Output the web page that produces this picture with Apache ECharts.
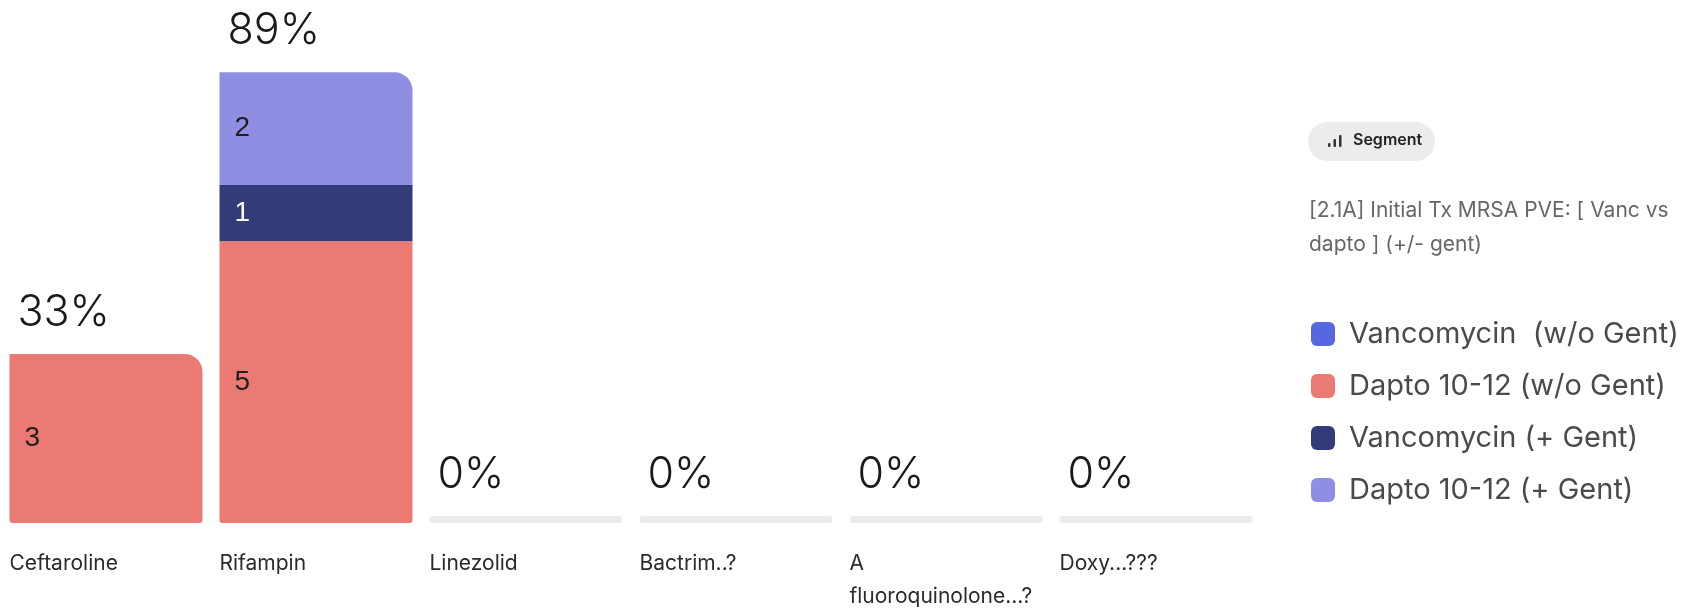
<!DOCTYPE html>
<html>
<head>
<meta charset="utf-8">
<script src="https://cdn.jsdelivr.net/npm/echarts@6/dist/echarts.min.js"></script>
<style>
  html, body { margin: 0; padding: 0; background: #ffffff; }
  #chart { width: 1689px; height: 610px; }
</style>
</head>
<body>
<div id="chart"></div>
<script>
// Answer options and how many respondents in each segment picked them
const categories = ['Ceftaroline', 'Rifampin', 'Linezolid', 'Bactrim..?', 'A fluoroquinolone...?', 'Doxy...???'];
const seriesNames = ['Vancomycin  (w/o Gent)', 'Dapto 10-12 (w/o Gent)', 'Vancomycin (+ Gent)', 'Dapto 10-12 (+ Gent)'];
const vancNoGent  = [0, 0, 0, 0, 0, 0];
const daptoNoGent = [3, 5, 0, 0, 0, 0];
const vancGent    = [0, 1, 0, 0, 0, 0];
const daptoGent   = [0, 2, 0, 0, 0, 0];
const respondents = 9;
const segmentQuestion = '[2.1A] Initial Tx MRSA PVE: [ Vanc vs dapto ] (+/- gent)';
const segmentButton = 'Segment';

const colors = ['#5668df', '#ec7a74', '#343b79', '#8f8ee3'];
const valueLabelColors = ['#ffffff', '#1f1f1f', '#ffffff', '#1f1f1f'];

const stacks = [vancNoGent, daptoNoGent, vancGent, daptoGent];
const totals = categories.map((_, i) => stacks.reduce((s, arr) => s + arr[i], 0));

// lowest and highest non-empty segment in each column, to round the outer corners
const bottomIdx = categories.map((_, i) => stacks.findIndex(arr => arr[i] > 0));
const topIdx = categories.map((_, i) => {
  for (let k = stacks.length - 1; k >= 0; k--) if (stacks[k][i] > 0) return k;
  return -1;
});

const BAR_W = 193;
const FONT = 'Inter, "Noto Sans", sans-serif';

const stackSeries = stacks.map((arr, k) => ({
  name: seriesNames[k],
  type: 'bar',
  stack: 'answers',
  barWidth: BAR_W,
  barGap: '-100%',
  z: 3,
  color: colors[k],
  data: arr.map((v, i) => ({
    value: v,
    itemStyle: {
      borderRadius: [0, topIdx[i] === k ? 18 : 0, bottomIdx[i] === k ? 3 : 0, bottomIdx[i] === k ? 3 : 0]
    }
  })),
  label: {
    show: true,
    position: 'insideLeft',
    distance: 15,
    fontSize: 28,
    fontFamily: '"Liberation Sans", Arial, sans-serif',
    color: valueLabelColors[k],
    formatter: p => (p.value > 0 ? String(p.value) : '')
  },
  emphasis: { disabled: true }
}));

// Column totals: a thin grey track where nothing was picked, plus the share label on top
const totalSeries = {
  name: 'total',
  type: 'bar',
  barWidth: BAR_W,
  barGap: '-100%',
  barMinHeight: 7,
  z: 1,
  silent: true,
  data: totals.map(t => ({
    value: t,
    itemStyle: { color: t > 0 ? 'rgba(0,0,0,0)' : '#ebebeb', borderRadius: 4 }
  })),
  label: {
    show: true,
    position: [8, -41],
    align: 'left',
    verticalAlign: 'middle',
    fontSize: 43,
    fontWeight: 300,
    fontFamily: FONT,
    color: '#1a1a1a',
    formatter: p => Math.round(totals[p.dataIndex] / respondents * 100) + '%'
  }
};

const chart = echarts.init(document.getElementById('chart'), null, { renderer: 'canvas' });
chart.setOption({
  animation: false,
  backgroundColor: '#ffffff',
  grid: { left: 1, width: 1260, top: 16, bottom: 87, containLabel: false, outerBoundsMode: 'none' },
  xAxis: {
    type: 'category',
    data: categories,
    axisLine: { show: false },
    axisTick: { show: false },
    axisLabel: {
      interval: 0,
      margin: 24,
      align: 'center',
      width: BAR_W,
      overflow: 'break',
      formatter: v => '{n|' + v + '}',
      rich: {
        n: { align: 'left', fontSize: 21, lineHeight: 33, color: '#2b2b2b', fontFamily: FONT }
      }
    }
  },
  yAxis: { type: 'value', min: 0, max: respondents, show: false, splitLine: { show: false } },
  title: {
    text: segmentQuestion,
    left: 1309,
    top: 194,
    padding: 0,
    textStyle: {
      fontSize: 21,
      fontWeight: 'normal',
      color: '#666666',
      fontFamily: FONT,
      lineHeight: 34,
      width: 385,
      overflow: 'break'
    }
  },
  legend: {
    data: seriesNames,
    orient: 'vertical',
    left: 1306,
    top: 314,
    itemWidth: 24,
    itemHeight: 24,
    itemGap: 22,
    icon: 'roundRect',
    selectedMode: false,
    textStyle: { fontSize: 29, fontFamily: FONT, color: '#4a4a4a', lineHeight: 30, padding: [0, 0, 0, 9] }
  },
  graphic: [
    { type: 'rect', left: 1308, top: 122, shape: { width: 127, height: 39, r: 19.5 }, style: { fill: '#ececec' }, silent: true },
    { type: 'rect', left: 1328, top: 143, shape: { width: 2.5, height: 4, r: 1 }, style: { fill: '#333333' }, silent: true },
    { type: 'rect', left: 1333.5, top: 139, shape: { width: 2.5, height: 8, r: 1 }, style: { fill: '#333333' }, silent: true },
    { type: 'rect', left: 1339, top: 135, shape: { width: 2.5, height: 12, r: 1 }, style: { fill: '#333333' }, silent: true },
    {
      type: 'text', left: 1353, top: 132,
      style: { text: segmentButton, font: '600 16px ' + FONT, fill: '#222222' },
      silent: true
    }
  ],
  series: [totalSeries].concat(stackSeries)
});
</script>
</body>
</html>
